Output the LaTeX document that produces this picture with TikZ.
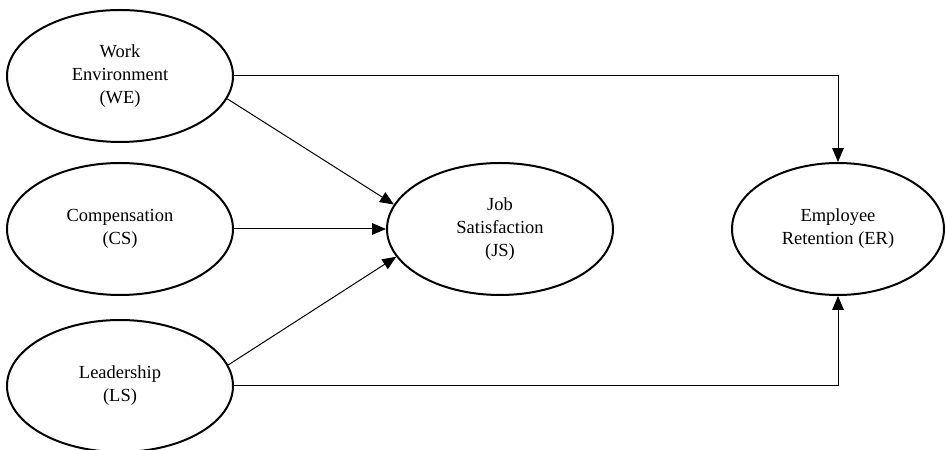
\documentclass[tikz,border=0pt]{standalone}
\usepackage{fontspec}
\setmainfont{Liberation Serif}
\usetikzlibrary{shapes.geometric,arrows.meta}
\tikzset{construct/.style={draw,ellipse,line width=1.3pt,inner sep=0pt,minimum width=146.9pt,minimum height=85.8pt,align=center,font=\fontsize{12}{15}\selectfont}}
\tikzset{relation/.style={line width=0.65pt,-{Triangle[length=9pt,width=7.5pt]}}}

\begin{document}
\begin{tikzpicture}[x=0.65pt,y=-0.65pt]
	\useasboundingbox (0,0) rectangle (946,450); %frame
	% exogenous constructs
	\node[construct] (WE) at (120,76) {Work\\Environment\\(WE)};
	\node[construct] (CS) at (120,229) {Compensation\\(CS)};
	\node[construct] (LS) at (120,386) {Leadership\\(LS)};
	% mediator and outcome
	\node[construct] (JS) at (500,229) {Job\\Satisfaction\\(JS)};
	\node[construct,minimum width=137.8pt] (ER) at (838,229) {Employee\\Retention (ER)};

	\draw[relation] (WE.east) -| (ER.north);
	\draw[relation] (WE.-12) -- (JS.167);
	\draw[relation] (CS) -- (JS);
	\draw[relation] (LS.11) -- (JS.195);
	\draw[relation] (LS.east) -| (ER.south);
\end{tikzpicture}
\end{document}
